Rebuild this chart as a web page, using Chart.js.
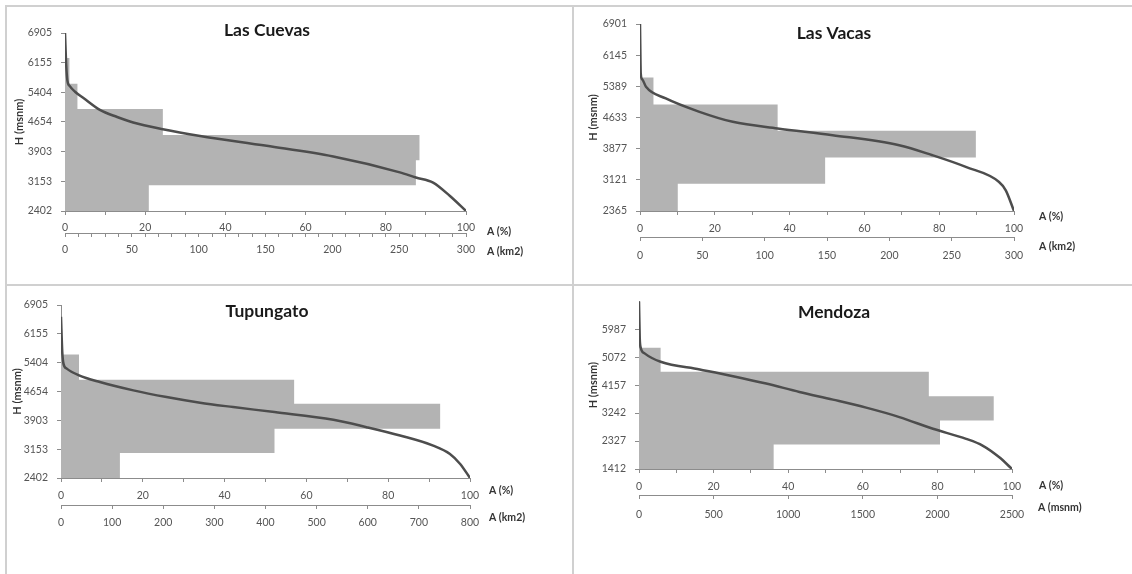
<!DOCTYPE html>
<html>
<head>
<meta charset="utf-8">
<script src="https://cdn.jsdelivr.net/npm/chart.js@4.4.1/dist/chart.umd.min.js"></script>
<style>
    body { margin: 0; background: #fff; }
    #page { position: relative; width: 1132px; height: 574px; overflow: hidden; background: #fff; }
    .panel { position: absolute; }
    .rule { position: absolute; background: #d0d0d0; }
</style>
</head>
<body>
<div id="page">
    <div class="rule" style="left:5px;top:5px;width:1127px;height:2px"></div>
    <div class="rule" style="left:5px;top:5px;width:2px;height:569px"></div>
    <div class="rule" style="left:5px;top:284px;width:1127px;height:2px"></div>
    <div class="rule" style="left:572px;top:5px;width:2px;height:569px"></div>
    <canvas id="cuevas" class="panel" style="left:7px;top:7px" width="565" height="277"></canvas>
    <canvas id="vacas" class="panel" style="left:574px;top:7px" width="558" height="277"></canvas>
    <canvas id="tupungato" class="panel" style="left:7px;top:286px" width="565" height="288"></canvas>
    <canvas id="mendoza" class="panel" style="left:574px;top:286px" width="558" height="288"></canvas>
</div>
<script>
// Las Cuevas
const cuevasBandEdges = [2402, 3054, 3689, 4323, 4984, 5618, 6270];
const cuevasBandArea = [20.9, 87.5, 88.4, 24.4, 3.1, 1.1];
const cuevasCurveArea = [0, 0.3, 0.6, 1.2, 2.5, 4.6, 8.7, 13, 17, 24.4, 33.7, 50.3, 66.9, 83.5, 87.5, 91.8, 96, 100];
const cuevasCurveH = [6905, 6100, 5700, 5560, 5420, 5260, 4960, 4780, 4640, 4470, 4300, 4050, 3780, 3380, 3250, 3120, 2780, 2402];
const cuevasTicksH = [2402, 3153, 3903, 4654, 5404, 6155, 6905];

// Las Vacas
const vacasBandEdges = [2365, 3029, 3661, 4309, 4949, 5605];
const vacasBandArea = [10.1, 49.5, 89.8, 36.8, 3.6];
const vacasCurveArea = [0, 0.2, 0.6, 1.6, 6.9, 15.9, 24.8, 36.8, 51.5, 69.3, 78.2, 87.1, 96, 97.8, 100];
const vacasCurveH = [6901, 5700, 5560, 5379, 5096, 4771, 4528, 4366, 4204, 3961, 3718, 3435, 3070, 2867, 2365];
const vacasTicksH = [2365, 3121, 3877, 4633, 5389, 6145, 6901];

// Tupungato
const tupungatoBandEdges = [2402, 3055, 3682, 4335, 4962, 5615];
const tupungatoBandArea = [14.4, 52.2, 92.7, 57.0, 4.4];
const tupungatoCurveArea = [0, 0.3, 0.6, 1.4, 4.4, 9.5, 17.7, 25.8, 34, 42.1, 52.2, 66.6, 74.7, 82.9, 91, 95.1, 97.6, 100];
const tupungatoCurveH = [6598, 5700, 5379, 5249, 5075, 4901, 4683, 4509, 4361, 4248, 4117, 3917, 3725, 3508, 3246, 3029, 2768, 2402];
const tupungatoTicksH = [2402, 3153, 3903, 4654, 5404, 6155, 6905];

// Mendoza
const mendozaBandEdges = [1412, 2213, 3003, 3793, 4593, 5383];
const mendozaBandArea = [36.1, 80.7, 95.1, 77.7, 5.8];
const mendozaCurveArea = [0, 0.2, 0.4, 1.5, 5.8, 16.3, 25.2, 34.1, 43, 52, 60.9, 69.8, 78.8, 87.7, 92.1, 96.6, 100];
const mendozaCurveH = [6902, 5700, 5416, 5197, 4922, 4670, 4451, 4209, 3935, 3683, 3420, 3112, 2728, 2399, 2180, 1796, 1412];
const mendozaTicksH = [1412, 2327, 3242, 4157, 5072, 5987];

const axisColor = '#8c8c8c';
const labelColor = '#555';
const barColor = '#b3b3b3';
const curveColor = '#4d4d4d';

Chart.defaults.font.family = 'Lato';

const panels = [
    {
        id: 'cuevas', title: 'Las Cuevas',
        edges: cuevasBandEdges, widths: cuevasBandArea, curveX: cuevasCurveArea, curveY: cuevasCurveH,
        yTicks: cuevasTicksH, yMin: 2402, yMax: 6905,
        x2Max: 300, x2Step: 10, x2Every: 50, x2Name: 'A (km2)',
        pad: {top: 26, left: 4, right: 106, bottom: 21}, yWidth: 54, yTitlePad: 3,
        h1: 22, h2: 30, x1Pad: 6, x2Pad: 6,
        titleX: 260, titleY: 23, x1Dx: 21, x1Dy: 21, x2Dx: 21, x2Dy: 19
    },
    {
        id: 'vacas', title: 'Las Vacas',
        edges: vacasBandEdges, widths: vacasBandArea, curveX: vacasCurveArea, curveY: vacasCurveH,
        yTicks: vacasTicksH, yMin: 2365, yMax: 6901,
        x2Max: 300, x2Step: 50, x2Every: 50, x2Name: 'A (km2)',
        pad: {top: 17, left: 4, right: 118, bottom: 17}, yWidth: 62, yTitlePad: 10,
        h1: 26, h2: 30, x1Pad: 7, x2Pad: 8,
        titleX: 260, titleY: 26, x1Dx: 25, x1Dy: 6, x2Dx: 25, x2Dy: 10
    },
    {
        id: 'tupungato', title: 'Tupungato',
        edges: tupungatoBandEdges, widths: tupungatoBandArea, curveX: tupungatoCurveArea, curveY: tupungatoCurveH,
        yTicks: tupungatoTicksH, yMin: 2402, yMax: 6905,
        x2Max: 800, x2Step: 100, x2Every: 100, x2Name: 'A (km2)',
        pad: {top: 19, left: 4, right: 102, bottom: 39}, yWidth: 50, yTitlePad: 1,
        h1: 27, h2: 30, x1Pad: 7, x2Pad: 7,
        titleX: 260, titleY: 25, x1Dx: 19, x1Dy: 13, x2Dx: 19, x2Dy: 13
    },
    {
        id: 'mendoza', title: 'Mendoza',
        edges: mendozaBandEdges, widths: mendozaBandArea, curveX: mendozaCurveArea, curveY: mendozaCurveH,
        yTicks: mendozaTicksH, yMin: 1412, yMax: 6902,
        x2Max: 2500, x2Step: 500, x2Every: 500, x2Name: 'A (msnm)',
        pad: {top: 15, left: 4, right: 120, bottom: 49}, yWidth: 61, yTitlePad: 10,
        h1: 26, h2: 30, x1Pad: 7, x2Pad: 9,
        titleX: 260, titleY: 26, x1Dx: 27, x1Dy: 17, x2Dx: 26, x2Dy: 13
    }
];

// title and axis names, drawn inside / beside the plot
const panelText = {
    id: 'panelText',
    afterDraw(chart, args, opts) {
        const ctx = chart.ctx;
        const area = chart.chartArea;
        ctx.save();
        ctx.fillStyle = '#1a1a1a';
        ctx.textBaseline = 'middle';
        ctx.textAlign = 'center';
        ctx.font = 'bold 17.5px Lato';
        ctx.fillText(opts.title, opts.titleX, opts.titleY);
        ctx.fillStyle = '#333';
        ctx.textAlign = 'left';
        ctx.font = 'bold 10.5px Lato';
        ctx.fillText('A (%)', area.right + opts.x1Dx, chart.scales.x.top + opts.x1Dy);
        ctx.fillText(opts.x2Name, area.right + opts.x2Dx, chart.scales.x2.top + opts.x2Dy);
        ctx.restore();
    }
};

function bandOutline(edges, widths) {
    let pts = [{x: 0, y: edges[0]}];
    for (let i = 0; i < widths.length; i++) {
        pts.push({x: widths[i], y: edges[i]});
        pts.push({x: widths[i], y: edges[i + 1]});
    }
    pts.push({x: 0, y: edges[widths.length]});
    pts.push({x: 0, y: edges[0]});
    return pts;
}

function loadPanel(p) {
    let ctx = document.getElementById(p.id);
    let tickFont = {size: 10.5};
    new Chart(ctx, {
        type: 'scatter',
        data: {
            datasets: [
                {
                    order: 1,
                    showLine: true,
                    borderColor: curveColor,
                    borderWidth: 2.5,
                    pointRadius: 0,
                    cubicInterpolationMode: 'monotone',
                    data: p.curveX.map((v, i) => ({x: v, y: p.curveY[i]}))
                },
                {
                    order: 2,
                    showLine: true,
                    borderWidth: 0,
                    borderColor: barColor,
                    backgroundColor: barColor,
                    fill: 'shape',
                    pointRadius: 0,
                    tension: 0,
                    data: bandOutline(p.edges, p.widths)
                }
            ]
        },
        options: {
            responsive: false,
            animation: false,
            events: [],
            layout: {padding: p.pad},
            plugins: {
                legend: {display: false},
                tooltip: {enabled: false},
                panelText: p
            },
            scales: {
                x: {
                    type: 'linear', position: 'bottom', weight: 0, min: 0, max: 100,
                    ticks: {
                        stepSize: 10, autoSkip: false, maxRotation: 0, padding: p.x1Pad,
                        color: labelColor, font: tickFont,
                        callback: v => v % 20 === 0 ? String(v) : ''
                    },
                    grid: {drawOnChartArea: false, tickLength: 4, color: axisColor},
                    border: {color: axisColor},
                    afterFit: s => { s.height = p.h1; }
                },
                x2: {
                    type: 'linear', position: 'bottom', weight: 1, min: 0, max: p.x2Max,
                    ticks: {
                        stepSize: p.x2Step, autoSkip: false, maxRotation: 0, padding: p.x2Pad,
                        color: labelColor, font: tickFont,
                        callback: v => v % p.x2Every === 0 ? String(v) : ''
                    },
                    grid: {drawOnChartArea: false, tickLength: 4, color: axisColor},
                    border: {color: axisColor},
                    afterFit: s => { s.height = p.h2; }
                },
                y: {
                    type: 'linear', position: 'left', min: p.yMin, max: p.yMax,
                    afterBuildTicks: s => { s.ticks = p.yTicks.map(v => ({value: v})); },
                    ticks: {padding: 9, color: labelColor, font: tickFont, callback: v => String(v)},
                    grid: {drawOnChartArea: false, tickLength: 4, color: axisColor},
                    border: {color: axisColor},
                    title: {
                        display: true, text: 'H (msnm)', color: '#333',
                        font: {size: 11, weight: 'bold'},
                        padding: {top: p.yTitlePad - 1, bottom: 0}
                    },
                    afterFit: s => { s.width = p.yWidth; }
                }
            }
        },
        plugins: [panelText]
    });
}

panels.forEach(p => loadPanel(p));
</script>
</body>
</html>
